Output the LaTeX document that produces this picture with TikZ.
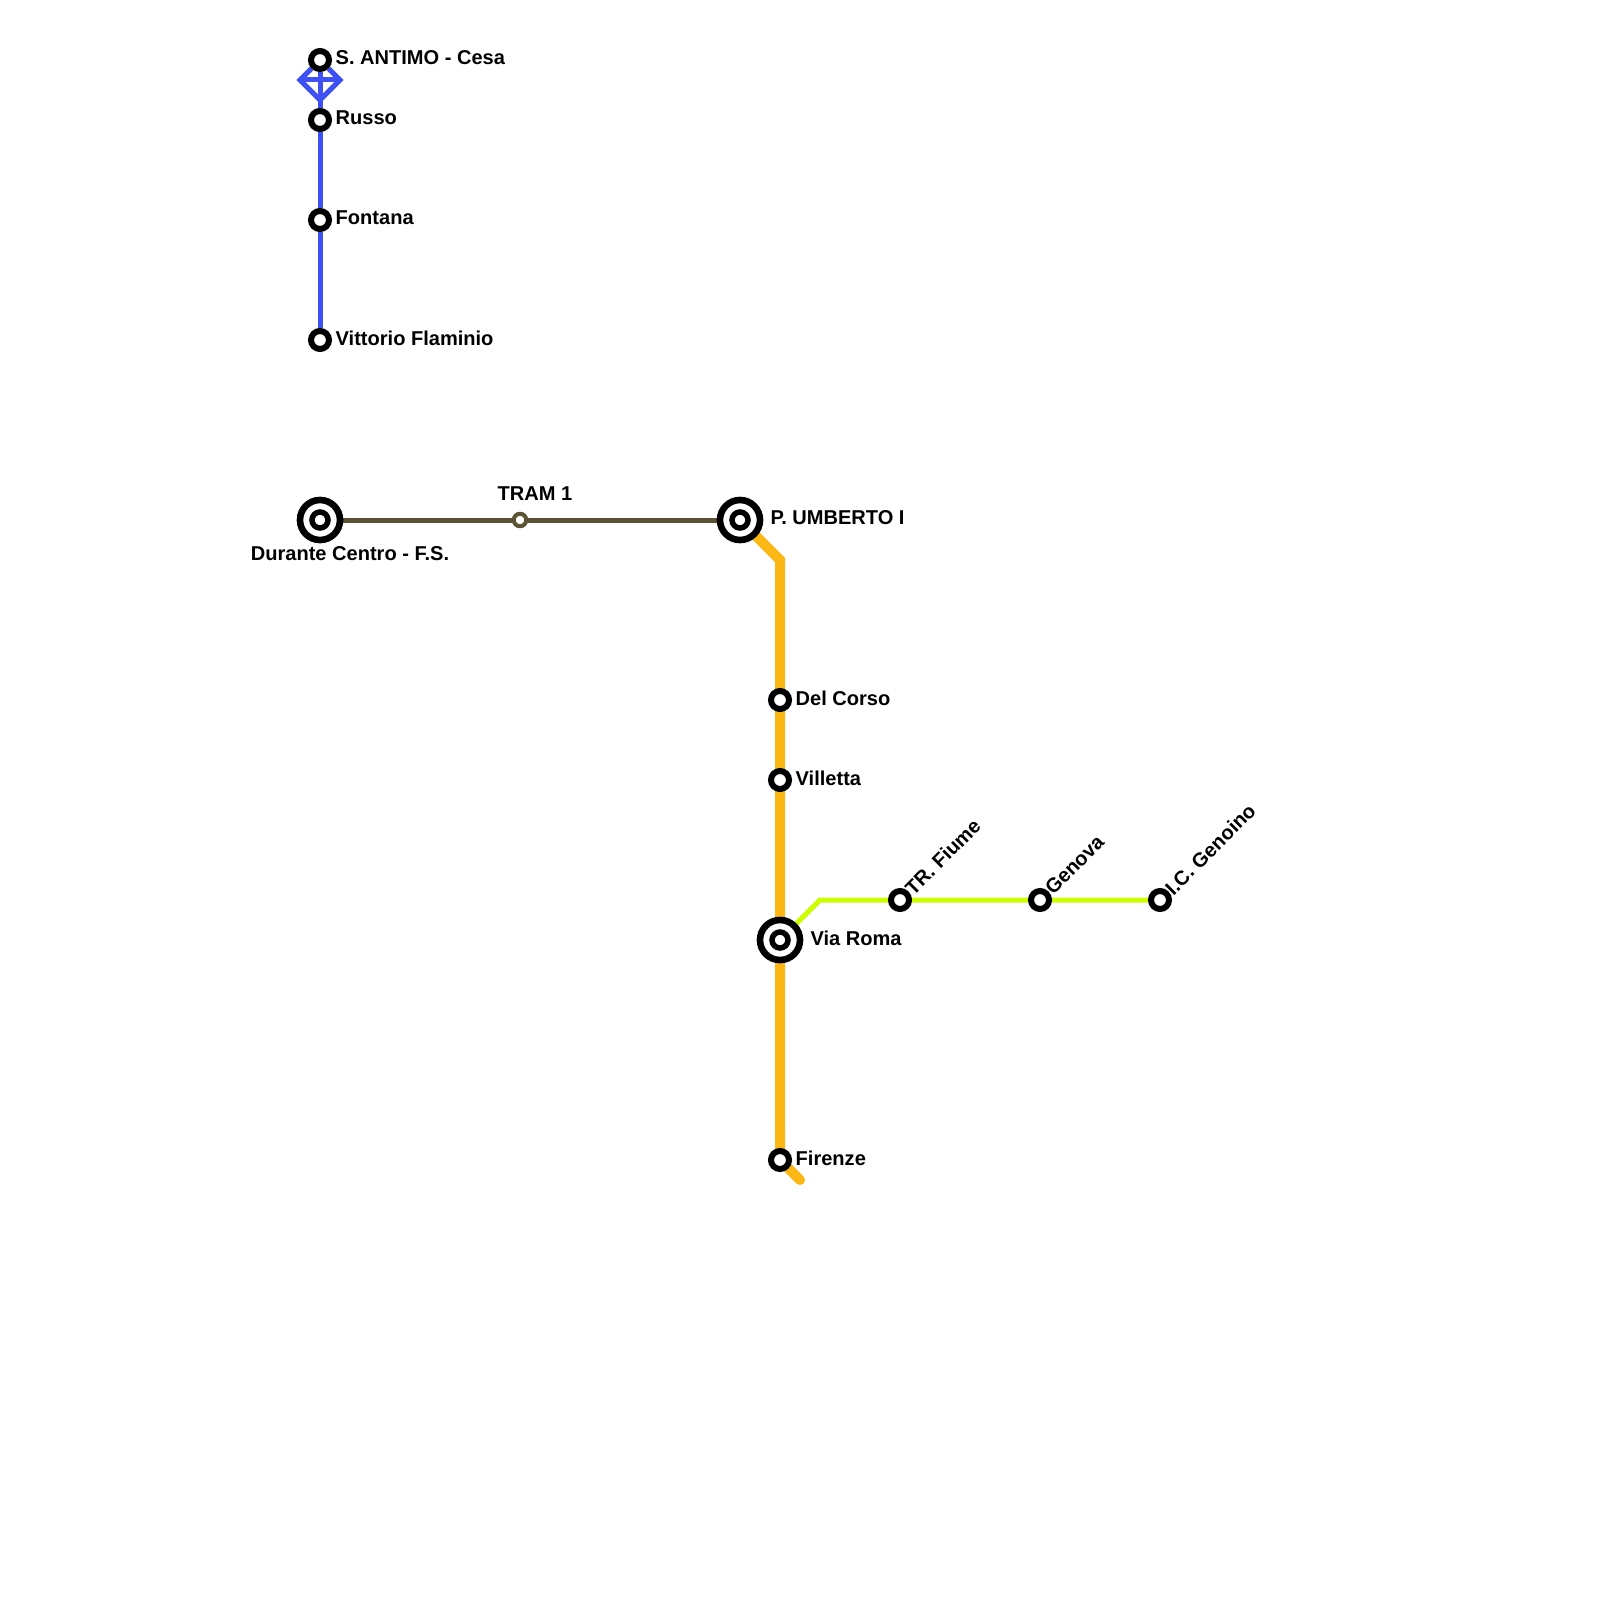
\documentclass[tikz,border=0pt]{standalone}
\usepackage{fontspec}
\setmainfont{Liberation Sans}
\usepackage{xcolor}
\usetikzlibrary{positioning, backgrounds}
\definecolor{bluetrack}{HTML}{3F51F5}
\definecolor{tramtrack}{HTML}{5C5133}
\definecolor{ambertrack}{HTML}{FBB814}
\definecolor{limetrack}{HTML}{CCFF00}

\begin{document}
\begin{tikzpicture}[
  x=0.01cm, y=-0.01cm,
  node distance=0.03cm,
  stopnode/.style={circle, draw=black, line width=0.06cm, fill=white, inner sep=0pt, minimum size=0.18cm},
  tramstop/.style={circle, draw=tramtrack, line width=0.04cm, fill=white, inner sep=0pt, minimum size=0.125cm},
  hub/.style={circle, draw=black, line width=0.066cm, fill=white, inner sep=0pt, minimum size=0.4cm},
  hubcore/.style={circle, draw=black, line width=0.055cm, fill=white, inner sep=0pt, minimum size=0.16cm},
  stationtext/.style={font=\fontsize{5.7pt}{7pt}\selectfont\bfseries, inner sep=0pt, text=black, yshift=0.02cm},
  slanted/.style={stationtext, rotate=45, anchor=west},
  bluebranch/.style={draw=bluetrack, line width=0.05cm, line join=miter},
  tramline/.style={draw=tramtrack, line width=0.05cm},
  mainline/.style={draw=ambertrack, line width=0.1cm, line cap=round, line join=miter},
  limeline/.style={draw=limetrack, line width=0.05cm, line cap=round, line join=miter}
]
  \useasboundingbox (0,0) rectangle (1600,1600);

  % blue line
  \node[stopnode] (antimo) at (320,60) {};
  \node[stopnode] (russo) at (320,120) {};
  \node[stopnode] (fontana) at (320,220) {};
  \node[stopnode] (flaminio) at (320,340) {};
  \coordinate (dleft) at (300,80);
  \coordinate (dright) at (340,80);
  \coordinate (dbottom) at (320,100);

  \node[stationtext, right=of antimo] (antimotext) {S. ANTIMO - Cesa};
  \node[stationtext, right=of russo] (russotext) {Russo};
  \node[stationtext, right=of fontana] (fontanatext) {Fontana};
  \node[stationtext, right=of flaminio] (flaminiotext) {Vittorio Flaminio};

  % tram
  \node[hub] (durante) at (320,520) {};
  \node[hubcore] (durantecore) at (320,520) {};
  \node[tramstop] (tram) at (520,520) {};
  \node[hub] (umberto) at (740,520) {};
  \node[hubcore] (umbertocore) at (740,520) {};

  \node[stationtext, below=0.04cm of durante, xshift=0.3cm] (durantetext) {Durante Centro - F.S.};
  \node[stationtext, above=0.09cm of tram, xshift=0.15cm] (tramtext) {TRAM 1};
  \node[stationtext, right=0.065cm of umberto] (umbertotext) {P. UMBERTO I};

  % main line
  \coordinate (bend) at (780,560);
  \node[stopnode] (corso) at (780,700) {};
  \node[stopnode] (villetta) at (780,780) {};
  \node[hub] (roma) at (780,940) {};
  \node[hubcore] (romacore) at (780,940) {};
  \node[stopnode] (firenze) at (780,1160) {};
  \coordinate (stub) at (800,1180);

  \node[stationtext, right=of corso] (corsotext) {Del Corso};
  \node[stationtext, right=of villetta] (villettatext) {Villetta};
  \node[stationtext, right=0.065cm of roma] (romatext) {Via Roma};
  \node[stationtext, right=of firenze] (firenzetext) {Firenze};

  % lime branch
  \coordinate (fork) at (820,900);
  \node[stopnode] (fiume) at (900,900) {};
  \node[stopnode] (genova) at (1040,900) {};
  \node[stopnode] (genoino) at (1160,900) {};

  \node[slanted] (fiumetext) at ([xshift=-0.005cm,yshift=-0.02cm]fiume.north east) {TR. Fiume};
  \node[slanted] (genovatext) at ([xshift=-0.005cm,yshift=-0.02cm]genova.north east) {Genova};
  \node[slanted] (genoinotext) at ([xshift=-0.005cm,yshift=-0.02cm]genoino.north east) {I.C. Genoino};

  \begin{scope}[on background layer]
    \draw[bluebranch] (antimo) -- (dleft) -- (dbottom) -- (dright) -- (antimo);
    \draw[bluebranch] (dleft) -- (dright);
    \draw[bluebranch] (antimo) -- (russo) -- (fontana) -- (flaminio);
    \draw[tramline] (durante) -- (tram) -- (umberto);
    \draw[mainline] (umberto) -- (bend) -- (corso) -- (villetta) -- (roma) -- (firenze) -- (stub);
    \draw[limeline] (roma) -- (fork) -- (fiume) -- (genova) -- (genoino);
  \end{scope}
\end{tikzpicture}
\end{document}
